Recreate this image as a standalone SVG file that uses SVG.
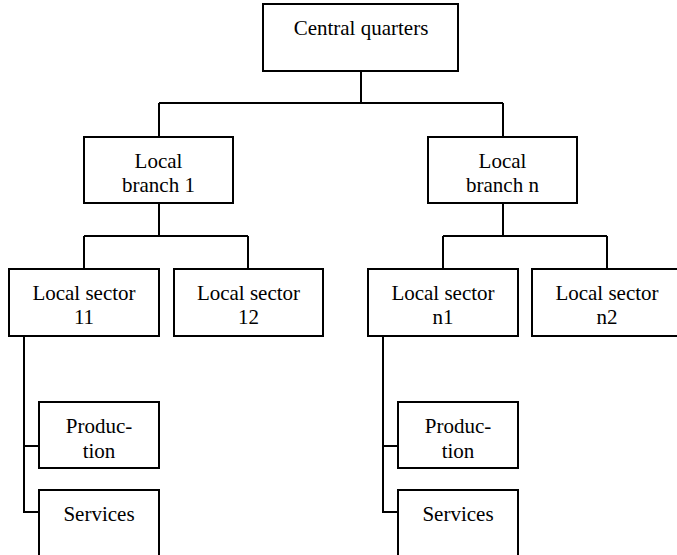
<svg xmlns="http://www.w3.org/2000/svg" width="677" height="555" viewBox="0 0 677 555">
<style>
.box{fill:#fff;stroke:#000;stroke-width:2}
.ln{fill:none;stroke:#000;stroke-width:2}
.t{font-size:21px;fill:#000;text-anchor:middle}
</style>
<rect width="677" height="555" fill="#fff"/>
<g id="connectors">
<path class="ln" d="M361,71 V103 M159,103 H503 M159,103 V137 M503,103 V137"/>
<path class="ln" d="M159,203 V236 M84,236 H248 M84,236 V269 M248,236 V269"/>
<path class="ln" d="M503,203 V236 M443,236 H607 M443,236 V269 M607,236 V269"/>
<path class="ln" d="M24,336 V512 H39 M24,446 H39"/>
<path class="ln" d="M383,336 V512 H398 M383,446 H398"/>
</g>
<g id="central"><rect class="box" x="263" y="4" width="195" height="67"/><text class="t" font-family="Liberation Serif, serif" x="361" y="35">Central quarters</text></g>
<g id="branch1"><rect class="box" x="84" y="137" width="149" height="66"/><text class="t" font-family="Liberation Serif, serif" x="158.5" y="168">Local</text><text class="t" font-family="Liberation Serif, serif" x="158.5" y="192">branch 1</text></g>
<g id="branchn"><rect class="box" x="428" y="137" width="149" height="66"/><text class="t" font-family="Liberation Serif, serif" x="502.5" y="168">Local</text><text class="t" font-family="Liberation Serif, serif" x="502.5" y="192">branch n</text></g>
<g id="sector11"><rect class="box" x="9" y="269" width="150" height="67"/><text class="t" font-family="Liberation Serif, serif" x="84" y="300">Local sector</text><text class="t" font-family="Liberation Serif, serif" x="84" y="324">11</text></g>
<g id="sector12"><rect class="box" x="174" y="269" width="149" height="67"/><text class="t" font-family="Liberation Serif, serif" x="248.5" y="300">Local sector</text><text class="t" font-family="Liberation Serif, serif" x="248.5" y="324">12</text></g>
<g id="sectorn1"><rect class="box" x="368" y="269" width="150" height="67"/><text class="t" font-family="Liberation Serif, serif" x="443" y="300">Local sector</text><text class="t" font-family="Liberation Serif, serif" x="443" y="324">n1</text></g>
<g id="sectorn2"><rect class="box" x="532" y="269" width="150" height="67"/><text class="t" font-family="Liberation Serif, serif" x="607" y="300">Local sector</text><text class="t" font-family="Liberation Serif, serif" x="607" y="324">n2</text></g>
<g id="production1"><rect class="box" x="39" y="402" width="120" height="66"/><text class="t" font-family="Liberation Serif, serif" x="99" y="433">Produc-</text><text class="t" font-family="Liberation Serif, serif" x="99" y="458">tion</text></g>
<g id="services1"><rect class="box" x="39" y="490" width="120" height="80"/><text class="t" font-family="Liberation Serif, serif" x="99" y="521">Services</text></g>
<g id="productionn"><rect class="box" x="398" y="402" width="120" height="66"/><text class="t" font-family="Liberation Serif, serif" x="458" y="433">Produc-</text><text class="t" font-family="Liberation Serif, serif" x="458" y="458">tion</text></g>
<g id="servicesn"><rect class="box" x="398" y="490" width="120" height="80"/><text class="t" font-family="Liberation Serif, serif" x="458" y="521">Services</text></g>
</svg>
